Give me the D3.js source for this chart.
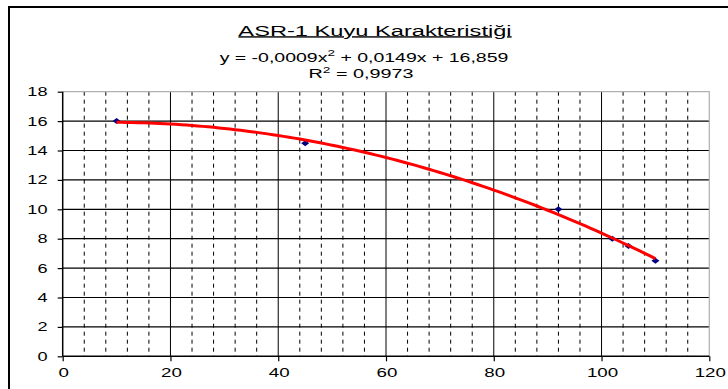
<!DOCTYPE html>
<html><head><meta charset="utf-8">
<script src="https://cdn.jsdelivr.net/npm/d3@7"></script>
<style>body{margin:0;background:#fff}svg{display:block}text{font-family:"Liberation Sans",Arial,sans-serif}</style>
</head><body>
<script>
// ---- data ----
const titleText = "ASR-1 Kuyu Karakteristiği";
const xValues = [10, 45, 92, 102, 105, 110];
const yValues = [16, 14.5, 10, 8, 7.5, 6.5];
const xTicks = [0, 20, 40, 60, 80, 100, 120];
const yTicks = [0, 2, 4, 6, 8, 10, 12, 14, 16, 18];
const eqParts = ["y = -0,0009x", "2", " + 0,0149x + 16,859"];
const r2Parts = ["R", "2", " = 0,9973"];

const W = 728, H = 389;
const svg = d3.select("body").append("svg").attr("width", W).attr("height", H);
svg.append("rect").attr("width", W).attr("height", H).attr("fill", "#fff");
// outer chart border
svg.append("rect").attr("x", 9).attr("y", 7).attr("width", W + 20).attr("height", H + 20)
  .attr("fill", "none").attr("stroke", "#000").attr("stroke-width", 2);

const x = d3.scaleLinear().domain([0, 120]).range([62.7, 709.3]);
const y = d3.scaleLinear().domain([0, 18]).range([356.3, 91.7]);

function stretched(parent, tx, ty, sx, size, anchor) {
  const g = parent.append("g").attr("transform", `translate(${tx},${ty}) scale(${sx},1)`);
  return g.append("text").attr("font-size", size).attr("text-anchor", anchor).attr("fill", "#000");
}

// grid
const grid = svg.append("g");
const minor = d3.range(4, 120, 4).filter(v => v % 20 !== 0);
grid.selectAll(".vm").data(minor).join("line")
  .attr("x1", d => x(d)).attr("x2", d => x(d))
  .attr("y1", y(18)).attr("y2", y(0))
  .attr("stroke", "#000").attr("stroke-width", 1).attr("stroke-dasharray", "4,4");
grid.selectAll(".vM").data(xTicks.filter(v => v > 0 && v < 120)).join("line")
  .attr("x1", d => x(d)).attr("x2", d => x(d))
  .attr("y1", y(18)).attr("y2", y(0))
  .attr("stroke", "#000").attr("stroke-width", 1);
grid.selectAll(".h").data(yTicks.filter(v => v > 0 && v < 18)).join("line")
  .attr("x1", x(0)).attr("x2", x(120))
  .attr("y1", d => y(d)).attr("y2", d => y(d))
  .attr("stroke", "#000").attr("stroke-width", 1.2);
svg.append("path")
  .attr("d", `M${x(0)},${y(18)}H${x(120)}V${y(0)}`)
  .attr("fill", "none").attr("stroke", "#b0b0b0").attr("stroke-width", 1.2);

// axes
const xAxis = d3.axisBottom(x).tickValues(xTicks).tickSize(5).tickFormat("");
const gx = svg.append("g").attr("transform", `translate(0,${y(0)})`).call(xAxis);
const yAxis = d3.axisLeft(y).tickValues(yTicks).tickSize(5).tickFormat("");
const gy = svg.append("g").attr("transform", `translate(${x(0)},0)`).call(yAxis);
[gx, gy].forEach(g => {
  g.select(".domain").attr("stroke", "#000").attr("stroke-width", 1.5);
  g.selectAll(".tick line").attr("stroke", "#000").attr("stroke-width", 1.2);
});
gx.select(".domain").attr("d", `M${x(0)},0H${x(120)}`);
gy.select(".domain").attr("d", `M0,${y(0)}V${y(18)}`);

// tick labels
xTicks.forEach(v => {
  stretched(svg, x(v) + 1, 376.5, 1.5, 12.5, "middle").text(v);
});
yTicks.forEach(v => {
  stretched(svg, 47.5, y(v) + 4.4, 1.45, 12.5, "end").text(v);
});

// markers (small flattened diamonds)
svg.append("g").selectAll("path").data(xValues.map((d, i) => [d, yValues[i]])).join("path")
  .attr("transform", d => `translate(${x(d[0])},${y(d[1])})`)
  .attr("d", "M-4,0L0,-3L4,0L0,3Z")
  .attr("fill", "#000080");

// quadratic least-squares trendline computed from the data
function quadFit(xs, ys) {
  const S = k => d3.sum(xs, v => Math.pow(v, k));
  const T = k => d3.sum(xs, (v, i) => Math.pow(v, k) * ys[i]);
  const A = [[S(4), S(3), S(2)], [S(3), S(2), S(1)], [S(2), S(1), xs.length]];
  const B = [T(2), T(1), T(0)];
  for (let i = 0; i < 3; i++) {
    for (let j = i + 1; j < 3; j++) {
      const f = A[j][i] / A[i][i];
      for (let k = i; k < 3; k++) A[j][k] -= f * A[i][k];
      B[j] -= f * B[i];
    }
  }
  const c = [0, 0, 0];
  for (let i = 2; i >= 0; i--) {
    let s = B[i];
    for (let k = i + 1; k < 3; k++) s -= A[i][k] * c[k];
    c[i] = s / A[i][i];
  }
  return c;
}
const coef = quadFit(xValues, yValues);
const xmin = d3.min(xValues), xmax = d3.max(xValues);
const curvePts = d3.range(xmin, xmax + 0.001, (xmax - xmin) / 100)
  .map(v => [v, coef[0] * v * v + coef[1] * v + coef[2]]);
svg.append("path").datum(curvePts)
  .attr("d", d3.line().x(d => x(d[0])).y(d => y(d[1])))
  .attr("fill", "none").attr("stroke", "#ff0000").attr("stroke-width", 3);

// title
stretched(svg, 375, 35.5, 1.69, 14, "middle").text(titleText)
  .attr("text-decoration", "underline");

// equation
const eq = stretched(svg, 364, 61.5, 1.5, 13, "middle");
eq.append("tspan").text(eqParts[0]);
eq.append("tspan").attr("font-size", 9).attr("dy", -6).text(eqParts[1]);
eq.append("tspan").attr("dy", 6).text(eqParts[2]);
const r2 = stretched(svg, 361, 77.5, 1.52, 13, "middle");
r2.append("tspan").text(r2Parts[0]);
r2.append("tspan").attr("font-size", 9).attr("dy", -5).text(r2Parts[1]);
r2.append("tspan").attr("dy", 5).text(r2Parts[2]);
</script>
</body></html>
